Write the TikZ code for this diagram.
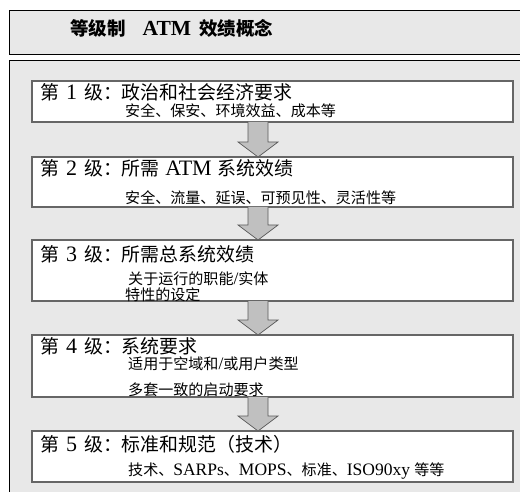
\documentclass[tikz,border=0pt]{standalone}
\usepackage{fontspec}
\setmainfont{Liberation Serif}
\newfontfamily\cjk[Scale=0.86]{Noto Sans CJK SC}
\newcommand\zh[1]{{\cjk #1}}
\newcommand\lvl[1]{\zh{第}\hspace{7pt}#1\hspace{7pt}\zh{级：}}
\definecolor{panelgray}{HTML}{E8E8E8}
\definecolor{arrgray}{HTML}{C0C0C0}
\definecolor{arredge}{HTML}{5A5A5A}
\begin{document}
\begin{tikzpicture}[x=1pt,y=1pt,
  frame/.style={draw=black,line width=0.9pt,fill=panelgray},
  lvlbox/.style={draw=black!60,line width=1.1pt,fill=white},
  head/.style={anchor=base west,inner sep=0pt,font=\fontsize{22}{26}\selectfont},
  sub/.style={anchor=base west,inner sep=0pt,font=\fontsize{17.5}{21}\selectfont},
  ttl/.style={anchor=base west,inner sep=0pt,font=\fontsize{21.5}{25}\selectfont\bfseries},
  barrow/.style={draw=arredge,line width=0.7pt,fill=arrgray,line join=miter}]
\useasboundingbox (0,0) rectangle (520,491);
% title bar and panel
\path[frame] (9,481) rectangle (530,437);
\path[frame] (9,431) rectangle (530,-10);
\node[ttl] (title) at (70,455.5) {\zh{等级制}\hspace{17pt}ATM\hspace{8pt}\zh{效绩概念}};
% level boxes
\path[lvlbox] (32,410) rectangle (513,369);
\path[lvlbox] (32,334) rectangle (513,284);
\path[lvlbox] (32,251) rectangle (513,190);
\path[lvlbox] (32,156) rectangle (513,94);
\path[lvlbox] (32,60) rectangle (513,9);
\coordinate (b1s) at (258,369); \coordinate (b2n) at (258,334);
\coordinate (b2s) at (258,284); \coordinate (b3n) at (258,251);
\coordinate (b3s) at (258,190); \coordinate (b4n) at (258,156);
\coordinate (b4s) at (258,94);  \coordinate (b5n) at (258,60);
\newcommand\blockarr[2]{%
  \draw[barrow] ([xshift=-10]#1) -- ([xshift=-10,yshift=15]#2) -- ([xshift=-20,yshift=15]#2)
    -- (#2) -- ([xshift=20,yshift=15]#2) -- ([xshift=10,yshift=15]#2) -- ([xshift=10]#1);}
\blockarr{b1s}{b2n}
\blockarr{b2s}{b3n}
\blockarr{b3s}{b4n}
\blockarr{b4s}{b5n}
% texts
\node[head] (h1) at (40,391.5) {\lvl{1}\zh{政治和社会经济要求}};
\node[sub] (s1) at (125,374) {\zh{安全、保安、环境效益、成本等}};
\node[head] (h2) at (40,315.5) {\lvl{2}\zh{所需} ATM \zh{系统效绩}};
\node[sub] (s2) at (125,287.5) {\zh{安全、流量、延误、可预见性、灵活性等}};
\node[head] (h3) at (40,229.5) {\lvl{3}\zh{所需总系统效绩}};
\node[sub] (s3a) at (128,207) {\zh{关于运行的职能}/\zh{实体}};
\node[sub] (s3b) at (125,190) {\zh{特性的设定}};
\node[head] (h4) at (40,137.5) {\lvl{4}\zh{系统要求}};
\node[sub] (s4a) at (128,122) {\zh{适用于空域和}/\zh{或用户类型}};
\node[sub] (s4b) at (128,95.5) {\zh{多套一致的启动要求}};
\node[head] (h5) at (40,39.5) {\lvl{5}\zh{标准和规范（技术）}};
\node[sub] (s5) at (128,15.5) {\zh{技术、}SARPs\zh{、}MOPS\zh{、标准、}ISO90xy \zh{等等}};
\end{tikzpicture}
\end{document}
